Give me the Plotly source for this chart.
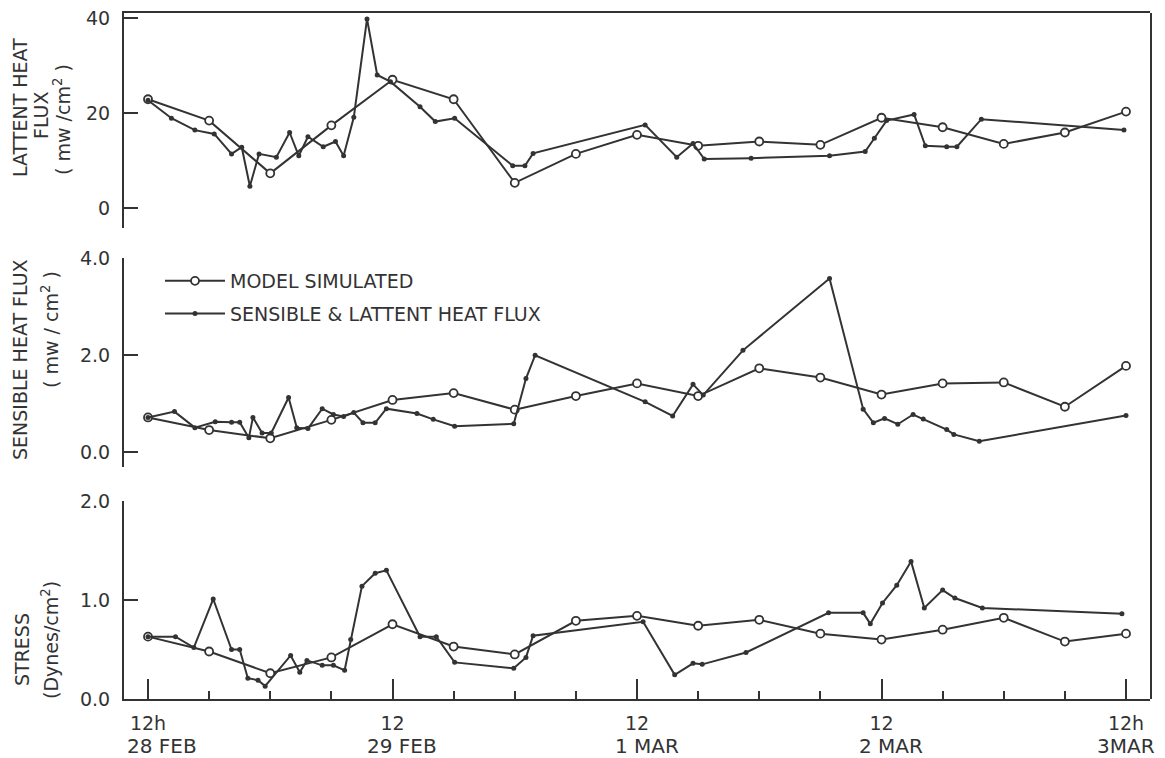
import plotly.graph_objects as go

# ---------------- data (hours after 12h 28 FEB) ----------------
model_hours = [0, 6, 12, 18, 24, 30, 36, 42, 48, 54, 60, 66, 72, 78, 84, 90, 96]

latent_model = [22.9, 18.4, 7.3, 17.4, 27.0, 22.9, 5.3, 11.4, 15.4, 13.1, 14.0,
                13.3, 19.0, 17.0, 13.5, 15.9, 20.3]
latent_obs_hours = [0, 2.3, 4.6, 6.5, 8.2, 9.2, 10.0, 10.9, 12.6, 13.9, 14.8, 15.7,
                    17.2, 18.4, 19.2, 20.2, 21.5, 22.5, 23.8, 26.7, 28.2, 30.1,
                    35.8, 37.0, 37.8, 48.8, 51.9, 53.5, 54.6, 59.2, 66.9, 70.4,
                    71.3, 72.5, 75.2, 76.3, 78.4, 79.4, 81.8, 95.8]
latent_obs = [22.7, 18.9, 16.4, 15.6, 11.4, 12.8, 4.6, 11.4, 10.7, 15.9, 11.0, 15.0,
              12.9, 14.0, 11.0, 19.1, 39.8, 28.0, 26.6, 21.3, 18.2, 18.9,
              8.9, 8.9, 11.5, 17.5, 10.7, 13.6, 10.3, 10.5, 11.0, 11.9,
              14.7, 18.4, 19.7, 13.1, 12.9, 12.9, 18.7, 16.4]

sensible_model = [0.72, 0.46, 0.29, 0.67, 1.08, 1.22, 0.88, 1.16, 1.42, 1.16, 1.73,
                  1.54, 1.19, 1.42, 1.44, 0.94, 1.78]
sensible_obs_hours = [0, 2.6, 4.6, 6.6, 8.2, 9.0, 9.9, 10.3, 11.2, 12.1, 13.8, 14.6,
                      15.7, 17.1, 18.2, 19.2, 20.2, 21.1, 22.3, 23.4, 26.4, 28.0,
                      30.1, 35.9, 37.1, 38.0, 48.8, 51.5, 53.5, 54.5, 58.4, 66.9,
                      70.2, 71.2, 72.3, 73.6, 75.1, 76.1, 78.4, 79.1, 81.6, 96.0]
sensible_obs = [0.72, 0.84, 0.51, 0.63, 0.62, 0.62, 0.30, 0.72, 0.40, 0.40, 1.13, 0.51,
                0.49, 0.90, 0.78, 0.74, 0.82, 0.61, 0.61, 0.90, 0.80, 0.68,
                0.54, 0.59, 1.52, 2.00, 1.04, 0.75, 1.40, 1.18, 2.10, 3.58,
                0.89, 0.61, 0.70, 0.58, 0.78, 0.69, 0.47, 0.37, 0.23, 0.76]

stress_model = [0.63, 0.48, 0.26, 0.42, 0.755, 0.53, 0.45, 0.79, 0.84, 0.74, 0.80,
                0.66, 0.60, 0.70, 0.82, 0.58, 0.66]
stress_obs_hours = [0, 2.7, 4.5, 6.4, 8.2, 9.0, 9.8, 10.8, 11.5, 14.0, 14.9, 15.6,
                    17.1, 18.2, 19.3, 19.9, 21.0, 22.3, 23.4, 26.7, 28.3, 30.1,
                    35.9, 37.1, 37.8, 48.6, 51.7, 53.5, 54.4, 58.7, 66.8, 70.2,
                    70.9, 72.1, 73.5, 74.9, 76.2, 78.0, 79.2, 81.9, 95.6]
stress_obs = [0.63, 0.63, 0.52, 1.01, 0.50, 0.50, 0.21, 0.19, 0.13, 0.44, 0.27, 0.39,
              0.34, 0.34, 0.29, 0.60, 1.14, 1.27, 1.30, 0.63, 0.63, 0.37,
              0.31, 0.42, 0.64, 0.78, 0.245, 0.36, 0.35, 0.47, 0.87, 0.87,
              0.76, 0.97, 1.15, 1.39, 0.92, 1.10, 1.02, 0.92, 0.86]

major_hours = [0, 24, 48, 72, 96]
hour_labels = ["12h", "12", "12", "12", "12h"]
date_labels = ["28 FEB", "29 FEB", "1 MAR", "2 MAR", "3MAR"]
minor_hours = [6, 12, 18, 30, 36, 42, 54, 60, 66, 78, 84, 90]

latent_ticks = [0, 20, 40]
latent_ticktext = ["0", "20", "40"]
sensible_ticks = [0, 2, 4]
sensible_ticktext = ["0.0", "2.0", "4.0"]
stress_ticks = [0, 1, 2]
stress_ticktext = ["0.0", "1.0", "2.0"]

# ---------------- style / geometry ----------------
INK = "#333333"
FONT = "DejaVu Sans"
W, H = 1165, 758
OFF = 8  # page body offset of the figure in the browser
# target screen positions of the plot frame
S_LEFT, S_RIGHT, S_TOP, S_BOTTOM = 124, 1150, 13, 699
ML = S_LEFT - OFF
MT = S_TOP - OFF
MR = W - (S_RIGHT - OFF)
MB = H - (S_BOTTOM - OFF)
PW, PH = W - ML - MR, H - MT - MB


def px_x(px):
    return (px - OFF - ML) / PW


def px_y(py):
    return (H - MB - (py - OFF)) / PH


fig = go.Figure()


def add_pair(xm, ym, xo, yo, yaxis, show):
    fig.add_trace(go.Scatter(
        x=xm, y=ym, yaxis=yaxis, mode="lines+markers",
        name="MODEL SIMULATED", legendgroup="model", showlegend=show,
        line=dict(color=INK, width=2),
        marker=dict(symbol="circle", size=8, color="white",
                    line=dict(color=INK, width=1.8))))
    fig.add_trace(go.Scatter(
        x=xo, y=yo, yaxis=yaxis, mode="lines+markers",
        name="SENSIBLE & LATTENT HEAT FLUX", legendgroup="obs", showlegend=show,
        line=dict(color=INK, width=2),
        marker=dict(symbol="circle", size=5, color=INK)))


add_pair(model_hours, latent_model, latent_obs_hours, latent_obs, "y", False)
add_pair(model_hours, sensible_model, sensible_obs_hours, sensible_obs, "y2", True)
add_pair(model_hours, stress_model, stress_obs_hours, stress_obs, "y3", False)

yax_common = dict(showline=True, linecolor=INK, linewidth=2, ticks="inside",
                  ticklen=14, tickwidth=2, tickcolor=INK, showgrid=False,
                  zeroline=False, tickmode="array", ticklabelstandoff=8,
                  automargin=False, ticklabeloverflow="allow",
                  tickfont=dict(family=FONT, size=19, color=INK), anchor="x")

x_px_per_h = (1126 - 148) / 96.0
x0 = -(148 - S_LEFT) / x_px_per_h
x1 = 96 + (S_RIGHT - 1126) / x_px_per_h

fig.update_layout(
    width=W, height=H,
    margin=dict(l=ML, r=MR, t=MT, b=MB, autoexpand=False),
    paper_bgcolor="white", plot_bgcolor="rgba(0,0,0,0)",
    font=dict(family=FONT, color=INK),
    xaxis=dict(range=[x0, x1], domain=[0, 1], anchor="y3", automargin=False,
               showline=True, linecolor=INK, linewidth=2,
               showgrid=False, zeroline=False,
               tickmode="array", tickvals=major_hours, ticktext=hour_labels,
               ticks="inside", ticklen=20, tickwidth=2, tickcolor=INK,
               ticklabelstandoff=6, ticklabeloverflow="allow",
               tickfont=dict(family=FONT, size=19, color=INK),
               minor=dict(tickmode="array", tickvals=minor_hours, ticks="inside",
                          ticklen=8, tickwidth=2, tickcolor=INK, showgrid=False)),
    # top border of the frame
    xaxis2=dict(range=[x0, x1], domain=[0, 1], anchor="y", overlaying="x",
                side="top", showline=True, linecolor=INK, linewidth=2,
                showgrid=False, zeroline=False, showticklabels=False, ticks="",
                automargin=False),
    yaxis=dict(domain=[px_y(228), 1.0], range=[-4.2, 41.05],
               tickvals=latent_ticks, ticktext=latent_ticktext, **yax_common),
    yaxis2=dict(domain=[px_y(467), px_y(258)], range=[-0.3, 4.0],
                tickvals=sensible_ticks, ticktext=sensible_ticktext, **yax_common),
    yaxis3=dict(domain=[0, px_y(501)], range=[0, 2.0],
                tickvals=stress_ticks, ticktext=stress_ticktext, **yax_common),
    # right border of the frame
    yaxis4=dict(domain=[0, 1], range=[0, 1], anchor="x", side="right",
                showline=True, linecolor=INK, linewidth=2, showgrid=False,
                zeroline=False, showticklabels=False, ticks="", automargin=False),
    showlegend=True,
    legend=dict(x=px_x(160), y=px_y(262), xanchor="left", yanchor="top",
                bgcolor="rgba(0,0,0,0)", traceorder="grouped",
                tracegroupgap=5, itemwidth=60,
                font=dict(family=FONT, size=19, color=INK)),
)

# invisible helper traces so the frame axes are drawn
fig.add_trace(go.Scatter(x=[x0], y=[41.05], xaxis="x2", yaxis="y", mode="markers",
                         marker=dict(opacity=0), showlegend=False, hoverinfo="skip"))
fig.add_trace(go.Scatter(x=[x0], y=[0], xaxis="x", yaxis="y4", mode="markers",
                         marker=dict(opacity=0), showlegend=False, hoverinfo="skip"))

# date labels under hour labels
for h, lab, dx in zip(major_hours, date_labels, [14, 9, 10, 9, 0]):
    fig.add_annotation(x=h, xref="x", y=px_y(746), yref="paper", text=lab,
                       showarrow=False, xshift=dx, xanchor="center", yanchor="middle",
                       font=dict(family=FONT, size=20, color=INK))

# y-axis titles
ytitles = [
    ("LATTENT HEAT", 20, 108),
    ("FLUX", 41, 115),
    ("( mw /cm<sup>2</sup> )", 62, 120),
    ("SENSIBLE HEAT FLUX", 20, 360),
    ("( mw / cm<sup>2</sup> )", 50, 330),
    ("STRESS", 22, 650),
    ("(Dynes/cm<sup>2</sup>)", 50, 640),
]
for txt, px, py in ytitles:
    fig.add_annotation(x=px_x(px), y=px_y(py), xref="paper", yref="paper", text=txt,
                       showarrow=False, textangle=-90, xanchor="center",
                       yanchor="middle", align="center",
                       font=dict(family=FONT, size=19, color=INK))

fig.write_html("out.html")
